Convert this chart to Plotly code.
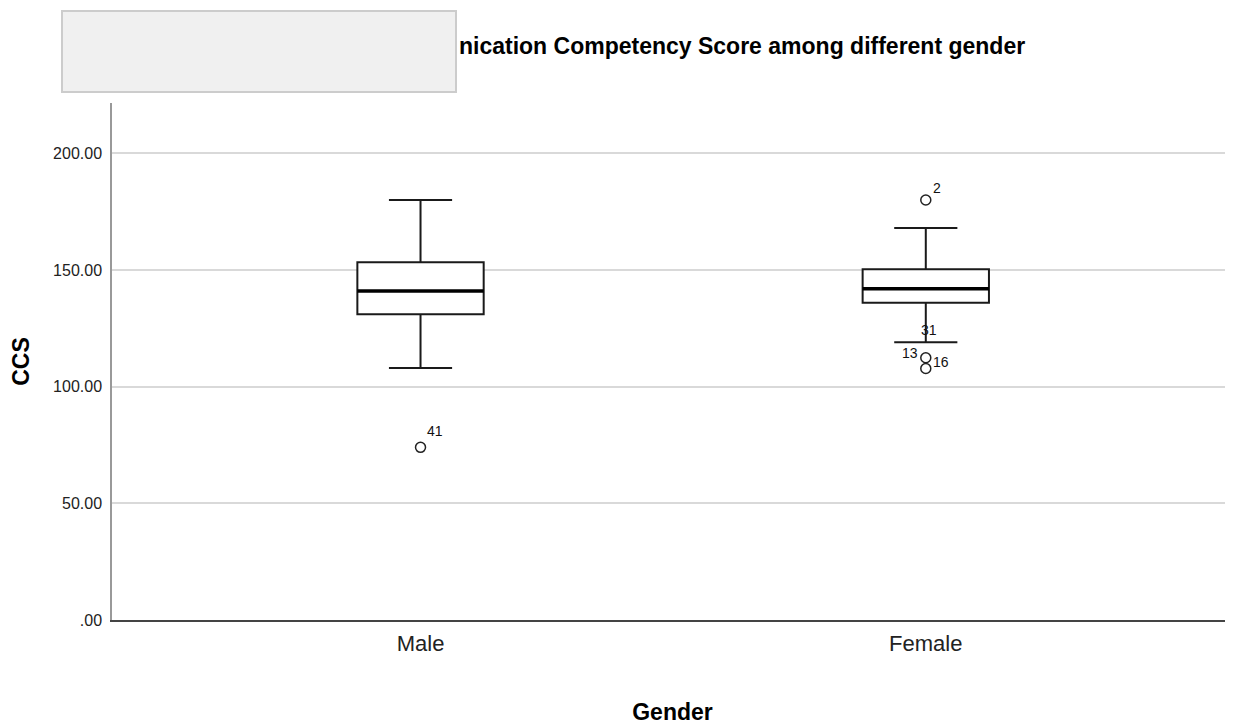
import plotly.graph_objects as go

# ---- data ----
categories = ["Male", "Female"]
cat_pos = [0, 1]
q1_vals = [131.0, 136.0]
median_vals = [141.0, 142.0]
q3_vals = [153.3, 150.3]
lower_whisker = [108.0, 119.0]
upper_whisker = [180.0, 168.0]

# outliers: category index, value, case label, and whether a marker is visible
outlier_cat = [0, 1, 1, 1, 1]
outlier_val = [74.0, 180.0, 112.4, 107.8, 119.0]
outlier_lbl = ["41", "2", "13", "16", "31"]
outlier_marker = [True, True, True, True, False]
# label offsets in pixels (dx, dy) relative to point
label_dx = [14, 11, -16, 15, 3]
label_dy = [16, 12, 5, 7, 12]

y_tickvals = [0, 50, 100, 150, 200]
y_ticktext = [".00", "50.00", "100.00", "150.00", "200.00"]

title_visible = "nication Competency Score among different gender"
x_title = "Gender"
y_title = "CCS"

FONT = "Liberation Sans, Arial, sans-serif"
# page body has an 8px margin, so the figure is drawn 8px smaller and shifted
OFF = 8
W, H = 1233 - OFF, 725 - OFF
L, R, T, B = 112 - OFF, 0, 103 - OFF, 725 - 620
PW, PH = W - L - R, H - T - B


def px_x(ref_x):
    return (ref_x - OFF - L) / PW


def px_y(ref_y):
    return (H - B - (ref_y - OFF)) / PH


BOX_W = 0.25
fig = go.Figure()

for i, name in enumerate(categories):
    fig.add_trace(go.Box(
        x=[cat_pos[i]], q1=[q1_vals[i]], median=[median_vals[i]], q3=[q3_vals[i]],
        lowerfence=[lower_whisker[i]], upperfence=[upper_whisker[i]],
        name=name, width=BOX_W, whiskerwidth=0.5, boxpoints=False,
        fillcolor="white", line=dict(color="#1a1a1a", width=2),
        showlegend=False, hoverinfo="skip",
    ))
    # thicker median line
    fig.add_trace(go.Scatter(
        x=[cat_pos[i] - BOX_W / 2, cat_pos[i] + BOX_W / 2],
        y=[median_vals[i], median_vals[i]], mode="lines",
        line=dict(color="#000000", width=3.5), showlegend=False, hoverinfo="skip",
    ))

mx = [cat_pos[c] for c, m in zip(outlier_cat, outlier_marker) if m]
my = [v for v, m in zip(outlier_val, outlier_marker) if m]
fig.add_trace(go.Scatter(
    x=mx, y=my, mode="markers",
    marker=dict(symbol="circle-open", size=10, color="#222", line=dict(width=1.5)),
    showlegend=False, hoverinfo="skip",
))

annotations = []
for c, v, lbl, dx, dy in zip(outlier_cat, outlier_val, outlier_lbl, label_dx, label_dy):
    annotations.append(dict(
        x=cat_pos[c], y=v, xref="x", yref="y", text=lbl, showarrow=False,
        xshift=dx, yshift=dy, font=dict(family=FONT, size=14, color="#111"),
    ))

# title (visible part), right end at x=1025px, centre y=46px of the reference
annotations.append(dict(
    x=px_x(1027), y=px_y(46), xref="paper", yref="paper",
    xanchor="right", yanchor="middle", text="<b>" + title_visible + "</b>",
    showarrow=False, font=dict(family=FONT, size=23, color="#000"),
))
# grey overlay box covering the start of the title
annotations.append(dict(
    x=px_x(61), y=px_y(10), xref="paper", yref="paper",
    xanchor="left", yanchor="top", text=" ", width=392, height=79,
    bgcolor="#f0f0f0", bordercolor="#cccccc", borderwidth=2, borderpad=0,
    showarrow=False,
))

fig.update_layout(
    width=W, height=H,
    margin=dict(l=L, r=R, t=T, b=B, pad=0),
    paper_bgcolor="white", plot_bgcolor="white",
    annotations=annotations,
    font=dict(family=FONT, color="#222"),
)
fig.update_xaxes(
    range=[-0.6106, 1.608], tickvals=cat_pos, ticktext=categories,
    showgrid=False, zeroline=False, showline=True, linecolor="#444", linewidth=2,
    ticks="", tickfont=dict(family=FONT, size=22, color="#222"),
    ticklabelstandoff=3,
    title=dict(text="<b>" + x_title + "</b>", font=dict(family=FONT, size=23, color="#000"), standoff=49),
)
fig.update_yaxes(
    range=[0, 221.6], tickvals=y_tickvals, ticktext=y_ticktext,
    showgrid=True, gridcolor="#d9d9d9", gridwidth=2, zeroline=False,
    showline=True, linecolor="#999", linewidth=1.5,
    ticks="", tickfont=dict(family=FONT, size=16, color="#222"),
    ticklabelstandoff=5,
    title=dict(text="<b>" + y_title + "</b>", font=dict(family=FONT, size=23, color="#000"), standoff=22),
)

fig.write_html("out.html")
